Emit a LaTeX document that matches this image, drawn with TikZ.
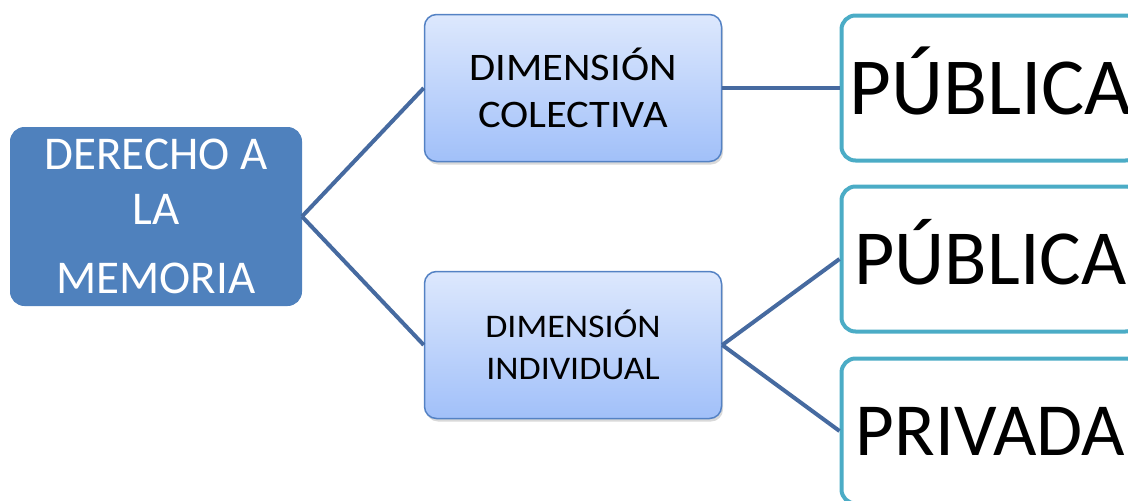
\documentclass[tikz,border=0pt]{standalone}
\usepackage{fontspec}
\setmainfont{Carlito}
\newfontfamily\widefont[FakeStretch=1.09]{Carlito}
\usetikzlibrary{positioning,shadows}
\definecolor{rootblue}{RGB}{79,129,189}
\definecolor{dimtop}{RGB}{221,232,253}
\definecolor{dimbottom}{RGB}{161,192,249}
\definecolor{dimborder}{RGB}{84,130,196}
\definecolor{leafteal}{RGB}{75,172,198}
\definecolor{linkblue}{RGB}{70,106,160}

\tikzset{
  rootbox/.style={draw=rootblue, fill=rootblue, rounded corners=14pt, line width=1pt,
    text=white, align=center, minimum width=291pt, minimum height=178pt},
  dimbox/.style={draw=dimborder, top color=dimtop, bottom color=dimbottom, rounded corners=12pt,
    line width=1.5pt, align=center, minimum width=297pt, minimum height=147pt,
    drop shadow={opacity=0.3, shadow xshift=1.5pt, shadow yshift=-3pt}},
  leafbox/.style={draw=leafteal, fill=white, rounded corners=14pt, line width=4pt,
    minimum width=298pt, minimum height=145pt, text depth=0pt},
  link/.style={draw=linkblue, line width=4pt}
}

\begin{document}
\begin{tikzpicture}[x=1pt, y=-1pt]
    \useasboundingbox (0,0) rectangle (1128,501);
    \clip (0,0) rectangle (1128,501);

    % Root
    \node[rootbox, font=\fontsize{47}{55}\selectfont] (root) at (156,216.5)
        {DERECHO A\\LA\\[14pt]MEMORIA};

    % Dimensions
    \node[dimbox, font=\widefont\fontsize{39}{47}\selectfont] (colect) at (573,88)
        {DIMENSIÓN\\COLECTIVA};
    \node[dimbox, font=\widefont\fontsize{33}{42}\selectfont] (indiv) at (573,345)
        {DIMENSIÓN\\INDIVIDUAL};

    % Leaves
    \node[leafbox, text height=52pt, font=\fontsize{81}{90}\selectfont] (pub1) at (990.5,88)
        {PÚBLICA};
    \node[leafbox, text height=50pt, font=\fontsize{78}{90}\selectfont] (pub2) at (990.5,259)
        {PÚBLICA};
    \node[leafbox, text height=48pt, font=\fontsize{75}{90}\selectfont] (priv) at (990.5,431)
        {PRIVADA};

    % Links
    \draw[link] (root.east) -- (colect.west);
    \draw[link] (root.east) -- (indiv.west);
    \draw[link] (colect.east) -- (pub1.west);
    \draw[link] (indiv.east) -- (pub2.west);
    \draw[link] (indiv.east) -- (priv.west);

\end{tikzpicture}
\end{document}
